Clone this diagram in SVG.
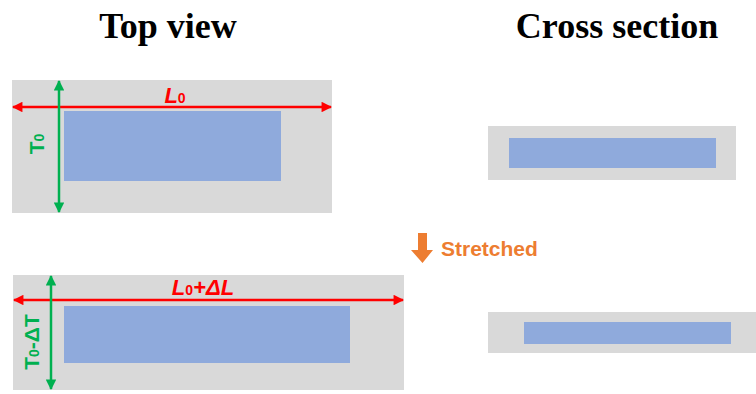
<svg xmlns="http://www.w3.org/2000/svg" width="756" height="394" viewBox="0 0 756 394">
  <style>
    .title { font-family: "Liberation Serif", "Times New Roman", serif; font-weight: bold; font-size: 36px; fill: #000; }
    .sub { fill: #D9D9D9; }
    .film { fill: #8FAADC; }
    .len { font-family: "Liberation Sans", Arial, sans-serif; font-weight: bold; font-style: italic; font-size: 22px; fill: #FF0000; }
    .thk { font-family: "Liberation Sans", Arial, sans-serif; font-weight: bold; font-size: 21px; fill: #00B050; }
    .red { stroke: #FF0000; stroke-width: 2.5; fill: none; }
    .green { stroke: #00B050; stroke-width: 2.5; fill: none; }
  </style>
  <defs>
    <marker id="headR" viewBox="0 0 10 10" refX="9" refY="5" markerWidth="4.4" markerHeight="4.2" orient="auto-start-reverse" markerUnits="strokeWidth">
      <path d="M0,0 L10,5 L0,10 Z" fill="#FF0000"/>
    </marker>
    <marker id="headG" viewBox="0 0 10 10" refX="9" refY="5" markerWidth="4.4" markerHeight="4.2" orient="auto-start-reverse" markerUnits="strokeWidth">
      <path d="M0,0 L10,5 L0,10 Z" fill="#00B050"/>
    </marker>
  </defs>

  <text class="title" x="168" y="38" text-anchor="middle">Top view</text>
  <text class="title" x="617" y="38" text-anchor="middle">Cross section</text>

  <!-- top view, before stretching -->
  <g id="top-before">
    <rect class="sub" x="12" y="80" width="320" height="133"/>
    <rect class="film" x="64" y="111" width="217" height="70"/>
  </g>

  <!-- top view, after stretching -->
  <g id="top-after">
    <rect class="sub" x="13" y="275" width="391" height="115"/>
    <rect class="film" x="64" y="306" width="286" height="57"/>
  </g>

  <!-- cross sections -->
  <g id="cross-before">
    <rect class="sub" x="488" y="126" width="248" height="54"/>
    <rect class="film" x="509" y="138" width="207" height="30"/>
  </g>
  <g id="cross-after">
    <rect class="sub" x="488" y="312" width="268" height="41"/>
    <rect class="film" x="524" y="322" width="207" height="22"/>
  </g>

  <!-- dimension arrows -->
  <g id="connectors">
    <line class="red" x1="13" y1="107" x2="331" y2="107" marker-start="url(#headR)" marker-end="url(#headR)"/>
    <line class="green" x1="59" y1="81" x2="59" y2="212" marker-start="url(#headG)" marker-end="url(#headG)"/>
    <line class="red" x1="14" y1="300" x2="403" y2="300" marker-start="url(#headR)" marker-end="url(#headR)"/>
    <line class="green" x1="51" y1="276" x2="51" y2="389" marker-start="url(#headG)" marker-end="url(#headG)"/>
  </g>

  <!-- dimension labels -->
  <g id="labels">
    <text class="len" x="175" y="103" text-anchor="middle">L<tspan font-size="14" font-style="normal">0</tspan></text>
    <text class="len" x="203" y="295" text-anchor="middle">L<tspan font-size="14" font-style="normal">0</tspan>+ΔL</text>
    <text class="thk" transform="translate(44,144) rotate(-90)" text-anchor="middle">T<tspan font-size="14">0</tspan></text>
    <text class="thk" transform="translate(39,342) rotate(-90)" text-anchor="middle">T<tspan font-size="14">0</tspan>-ΔT</text>
  </g>

  <!-- stretch indicator -->
  <g id="stretched">
    <path d="M418,233 H427 V250 H433 L422.5,263 L411,250 H418 Z" fill="#ED7D31"/>
    <text x="441" y="256" font-family="Liberation Sans, Arial, sans-serif" font-weight="bold" font-size="21" fill="#ED7D31">Stretched</text>
  </g>
</svg>
